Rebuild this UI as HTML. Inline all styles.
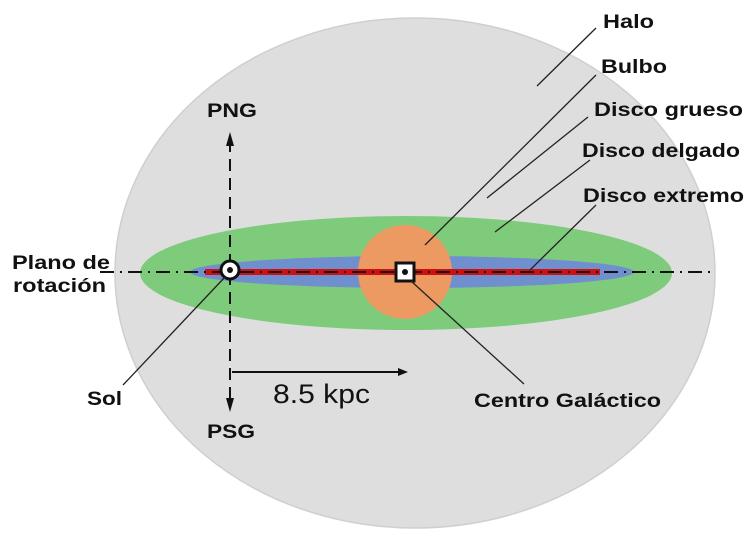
<!DOCTYPE html>
<html><head><meta charset="utf-8"><style>
html,body{margin:0;padding:0;background:#fff}
svg{display:block}
text{font-family:"Liberation Sans",Arial,sans-serif;fill:#111}
.b{font-weight:bold;font-size:19px}
</style></head><body>
<svg width="750" height="539" viewBox="0 0 750 539" xmlns="http://www.w3.org/2000/svg">
<ellipse cx="415" cy="273" rx="300" ry="255" fill="#dedede" stroke="#cfcfcf" stroke-width="1.5"/>
<ellipse cx="406" cy="273" rx="266" ry="57" fill="#7fcb7c"/>
<ellipse cx="412" cy="272" rx="222" ry="16" fill="#6f8fcf"/>
<circle cx="405" cy="272" r="47" fill="#ec9a62"/>
<line x1="205" y1="272" x2="600" y2="272" stroke="#d01010" stroke-width="6"/>
<line x1="100" y1="272" x2="715" y2="272" stroke="#111" stroke-width="2" stroke-dasharray="14,6,2,6"/>
<line x1="230" y1="140" x2="230" y2="405" stroke="#111" stroke-width="2" stroke-dasharray="12,7"/>
<polygon points="230,132 226,146 234,146" fill="#111"/>
<polygon points="230,412 226,398 234,398" fill="#111"/>
<line x1="232" y1="372" x2="402" y2="372" stroke="#111" stroke-width="2"/>
<polygon points="408,372 398,368 398,376" fill="#111"/>
<circle cx="230" cy="270" r="9" fill="#fff" stroke="#111" stroke-width="3"/>
<circle cx="230" cy="270" r="3" fill="#111"/>
<rect x="396" y="263" width="18" height="18" fill="#fff" stroke="#111" stroke-width="3"/>
<circle cx="405" cy="272" r="3" fill="#111"/>
<g stroke="#222" stroke-width="1.3">
<line x1="596" y1="28" x2="537" y2="86"/>
<line x1="596" y1="75" x2="425" y2="245"/>
<line x1="588" y1="117" x2="487" y2="198"/>
<line x1="590" y1="160" x2="495" y2="232"/>
<line x1="596" y1="205" x2="530" y2="270"/>
<line x1="225" y1="277" x2="123" y2="385"/>
<line x1="411" y1="281" x2="524" y2="384"/>
</g>
<text class="b" x="603" y="28" textLength="51" lengthAdjust="spacingAndGlyphs">Halo</text>
<text class="b" x="601" y="73" textLength="66" lengthAdjust="spacingAndGlyphs">Bulbo</text>
<text class="b" x="594" y="116" textLength="149" lengthAdjust="spacingAndGlyphs">Disco grueso</text>
<text class="b" x="582" y="157" textLength="158" lengthAdjust="spacingAndGlyphs">Disco delgado</text>
<text class="b" x="583" y="202" textLength="161" lengthAdjust="spacingAndGlyphs">Disco extremo</text>
<text class="b" x="207" y="117" textLength="50" lengthAdjust="spacingAndGlyphs">PNG</text>
<text class="b" x="207" y="438" textLength="48" lengthAdjust="spacingAndGlyphs">PSG</text>
<text class="b" x="12" y="269" textLength="98" lengthAdjust="spacingAndGlyphs">Plano de</text>
<text class="b" x="13" y="292" textLength="93" lengthAdjust="spacingAndGlyphs">rotación</text>
<text class="b" x="87" y="405" textLength="35" lengthAdjust="spacingAndGlyphs">Sol</text>
<text class="b" x="474" y="407" textLength="187" lengthAdjust="spacingAndGlyphs">Centro Galáctico</text>
<text x="273" y="403" style="font-size:27px" textLength="97" lengthAdjust="spacingAndGlyphs">8.5 kpc</text>
</svg>
</body></html>
